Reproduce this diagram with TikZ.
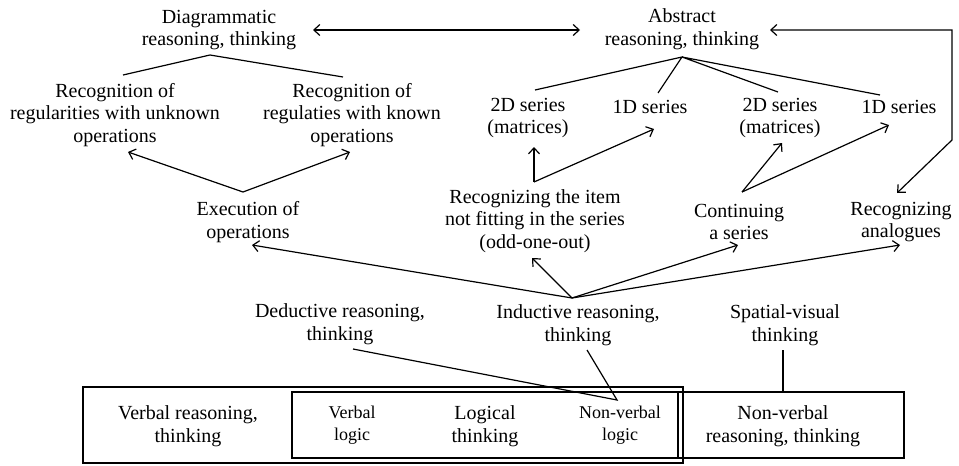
\documentclass[tikz,border=0pt]{standalone}
\usepackage{fontspec}
\setmainfont{Liberation Serif}
\usetikzlibrary{arrows.meta}
\begin{document}
\begin{tikzpicture}[x=1pt,y=-1pt,
  txt/.style={align=center,font=\fontsize{20}{22.5}\selectfont,inner sep=0pt},
  smalltxt/.style={align=center,font=\fontsize{18}{22}\selectfont,inner sep=0pt},
  conn/.style={line width=1.2pt},
  arr/.style={conn,-{Straight Barb[length=6pt,width=11pt,line width=1.2pt]}},
  darr/.style={conn,{Straight Barb[length=6pt,width=11pt,line width=1.2pt]}-{Straight Barb[length=6pt,width=11pt,line width=1.2pt]}},
  boxnode/.style={draw,line width=1.3pt,inner sep=0pt}]
\useasboundingbox[fill=white] (0,0) rectangle (959,466);

% boxes
\node[boxnode,minimum width=600pt,minimum height=76pt] (vbox) at (383,425) {};
\node[boxnode,minimum width=386pt,minimum height=66pt] (lbox) at (485,425) {};
\node[boxnode,minimum width=226pt,minimum height=66pt] (nbox) at (791,425) {};

% texts
\node[txt] (diag) at (219,30) {Diagrammatic\\reasoning, thinking};
\node[txt] (abs) at (682,29) {Abstract\\reasoning, thinking};
\node[txt] (recU) at (115,115) {Recognition of\\regularities with unknown\\operations};
\node[txt] (recK) at (352,115) {Recognition of\\regulaties with known\\operations};
\node[txt] (exec) at (248,222) {Execution of\\operations};
\node[txt] (s2L) at (528,118) {2D series\\(matrices)};
\node[txt] (s1L) at (650,107) {1D series};
\node[txt] (s2R) at (780,118) {2D series\\(matrices)};
\node[txt] (s1R) at (899,107) {1D series};
\node[txt] (odd) at (535,221) {Recognizing the item\\not fitting in the series\\(odd-one-out)};
\node[txt] (cont) at (739,222) {Continuing\\a series};
\node[txt] (analog) at (901,222) {Recognizing\\analogues};
\node[txt] (ded) at (340,324) {Deductive reasoning,\\thinking};
\node[txt] (ind) at (578,325) {Inductive reasoning,\\thinking};
\node[txt] (spat) at (785,325) {Spatial-visual\\thinking};
\node[txt] (vtext) at (188,426) {Verbal reasoning,\\thinking};
\node[smalltxt] (vlogic) at (352,425) {Verbal\\logic};
\node[txt] (logic) at (485,426) {Logical\\thinking};
\node[smalltxt] (nvlogic) at (620,425) {Non-verbal\\logic};
\node[txt] (ntext) at (783,426) {Non-verbal\\reasoning, thinking};

% connector end points
\coordinate (dA) at (210,55);
\coordinate (rU) at (123,75);
\coordinate (rK) at (343,77);
\coordinate (eT) at (243,192);
\coordinate (rUb) at (128,152);
\coordinate (rKb) at (350,152);
\coordinate (dR) at (313,30);
\coordinate (aL) at (580,30);
\coordinate (aR) at (770,30);
\coordinate (c1) at (952,30);
\coordinate (c2) at (952,140);
\coordinate (anT) at (897,193);
\coordinate (aB) at (682,57);
\coordinate (s2Lt) at (535,90);
\coordinate (s1Lt) at (658,93);
\coordinate (s2Rt) at (778,92);
\coordinate (s1Rt) at (880,95);
\coordinate (oT) at (534,182);
\coordinate (s2Lb) at (534,147);
\coordinate (s1Lb) at (654,129);
\coordinate (cT) at (742,192);
\coordinate (s2Rb) at (782,143);
\coordinate (s1Rb) at (889,125);
\coordinate (iT) at (572,298);
\coordinate (eB) at (252,245);
\coordinate (oB) at (532,258);
\coordinate (cB) at (738,245);
\coordinate (anB) at (900,245);
\coordinate (dB) at (353,349);
\coordinate (iB) at (587,350);
\coordinate (nvT) at (617,400);
\coordinate (sB) at (783,350);
\coordinate (nT) at (783,392);

% connectors
\draw[conn] (rU) -- (dA) -- (rK);
\draw[arr] (eT) -- (rUb);
\draw[arr] (eT) -- (rKb);
\draw[darr] (dR) -- (aL);
\draw[darr] (aR) -- (c1) -- (c2) -- (anT);
\draw[conn] (s2Lt) -- (aB) -- (s1Lt);
\draw[conn] (s2Rt) -- (aB) -- (s1Rt);
\draw[arr] (oT) -- (s2Lb);
\draw[arr] (oT) -- (s1Lb);
\draw[arr] (cT) -- (s2Rb);
\draw[arr] (cT) -- (s1Rb);
\draw[arr] (iT) -- (eB);
\draw[arr] (iT) -- (oB);
\draw[arr] (iT) -- (cB);
\draw[arr] (iT) -- (anB);
\draw[conn] (dB) -- (nvT) -- (iB);
\draw[conn] (sB) -- (nT);
\end{tikzpicture}
\end{document}
